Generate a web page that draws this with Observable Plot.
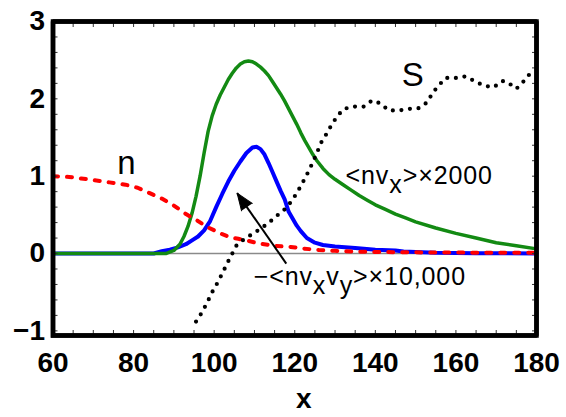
<!DOCTYPE html>
<html>
<head>
<meta charset="utf-8">
<script src="https://cdn.jsdelivr.net/npm/d3@7"></script>
<script src="https://cdn.jsdelivr.net/npm/@observablehq/plot@0.6"></script>
<style>
  html, body { margin: 0; padding: 0; background: white; }
  #chart svg { display: block; }
  g[aria-label="x-axis tick label"], g[aria-label="y-axis tick label"] { font-size: 28px; font-weight: bold; }
</style>
</head>
<body>
<div id="chart"></div>
<script>
// ---- data ----
const xTicks = [60, 80, 100, 120, 140, 160, 180];
const yTicks = [-1, 0, 1, 2, 3];
const xMinor = d3.range(60, 181, 5);
const yMinor = d3.range(-1, 3.01, 0.2);
const xDomain = [60, 180];
const yDomain = [-1.06, 3];

// <nv_x> x 2000 (green)
const gX = [60, 88, 90, 91.5, 92.5, 93.5, 94.5, 95.5, 96.5, 97.5, 98.5, 99.5, 100.5, 101.5, 102.5, 103.5, 104.5, 105.5, 106.5, 107.5, 108.5, 109.5, 110.5, 111.5, 112.5, 113.5, 114.5, 115.5, 116.5, 117.5, 118.5, 119.5, 120.5, 121.5, 122.5, 123.5, 124.5, 125.5, 127, 128.5, 130, 132, 134, 136, 138, 140, 142.5, 145, 147.5, 150, 155, 160, 165, 170, 175, 180];
const gY = [0, 0, 0.04, 0.12, 0.22, 0.35, 0.52, 0.74, 1.0, 1.3, 1.58, 1.78, 1.93, 2.05, 2.15, 2.25, 2.33, 2.4, 2.45, 2.48, 2.49, 2.48, 2.45, 2.41, 2.36, 2.3, 2.22, 2.14, 2.06, 1.97, 1.87, 1.77, 1.67, 1.56, 1.46, 1.37, 1.28, 1.2, 1.1, 1.02, 0.96, 0.89, 0.82, 0.75, 0.69, 0.63, 0.57, 0.51, 0.46, 0.41, 0.33, 0.26, 0.2, 0.14, 0.1, 0.06];

// -<nv_x v_y> x 10,000 (blue)
const bX = [60, 85, 87, 89, 91, 93, 94.5, 96, 97.5, 99, 100.5, 102, 103.5, 105, 106.5, 108, 109.5, 110.5, 111.5, 112.5, 113.5, 114.5, 115.5, 116.5, 117.5, 118.5, 119.5, 120.5, 121.5, 123, 125, 127, 130, 135, 140, 145, 147, 150, 155, 165, 180];
const bY = [0, 0, 0.03, 0.05, 0.08, 0.12, 0.17, 0.22, 0.3, 0.42, 0.6, 0.77, 0.93, 1.07, 1.19, 1.3, 1.37, 1.38, 1.35, 1.28, 1.17, 1.05, 0.93, 0.81, 0.7, 0.54, 0.45, 0.36, 0.29, 0.2, 0.14, 0.11, 0.09, 0.07, 0.05, 0.04, 0.025, 0.02, 0.01, 0.005, 0];

// n (red dashed)
const nX = [60, 64, 67, 70, 74, 78, 81, 84, 87, 90, 93, 96, 98, 100, 102, 104, 106, 108, 111, 115, 119, 122, 126, 130, 135, 140, 150, 160, 170, 180];
const nY = [1.0, 0.99, 0.97, 0.95, 0.92, 0.89, 0.85, 0.78, 0.71, 0.62, 0.51, 0.42, 0.35, 0.3, 0.25, 0.21, 0.19, 0.17, 0.13, 0.1, 0.085, 0.065, 0.045, 0.035, 0.025, 0.02, 0.015, 0.012, 0.01, 0.01];

// S (black dotted)
const sX = [95.5, 97, 98.3, 99.5, 100.7, 102, 103.2, 104.5, 105.5, 107.3, 109.4, 111.5, 113.6, 115.6, 117.7, 119.4, 120.7, 121.9, 123.2, 124.4, 125.5, 126.5, 127.8, 129.1, 130.6, 132.2, 134.6, 137.1, 139.2, 141.3, 143.3, 145.8, 148.3, 150.8, 153, 154.1, 155.7, 157.4, 160.1, 162.4, 164.6, 166.9, 169.4, 171.5, 172.7, 175, 176.7, 178.3, 180];
const sY = [-0.88, -0.76, -0.63, -0.5, -0.39, -0.26, -0.13, 0, 0.1, 0.18, 0.25, 0.32, 0.4, 0.49, 0.58, 0.69, 0.8, 0.91, 1.04, 1.17, 1.3, 1.43, 1.54, 1.66, 1.78, 1.87, 1.9, 1.9, 1.98, 1.94, 1.85, 1.85, 1.87, 1.88, 1.96, 2.07, 2.17, 2.27, 2.27, 2.29, 2.23, 2.17, 2.15, 2.23, 2.22, 2.13, 2.22, 2.32, 2.34];

// annotations
const bigLabels = ["n", "S"];
const bigLabelX = [78.2, 149.3];
const bigLabelY = [1.03, 2.17];
const smallLabels = ["<nv_x>×2000", "−<nv_xv_y>×10,000"];
const smallLabelX = [132.6, 109.8];
const smallLabelY = [0.9, -0.41];
const arrowTail = [{x: 117.9, y: -0.13}];
const arrowTip = [{x: 105.7, y: 0.78}];

const zip = (xs, ys) => xs.map((x, i) => ({x, y: ys[i]}));
const green = zip(gX, gY), blue = zip(bX, bY), red = zip(nX, nY), sdots = zip(sX, sY);
const arrowLink = [{x1: arrowTail[0].x, y1: arrowTail[0].y, x2: arrowTip[0].x, y2: arrowTip[0].y}];
const framePath = [
  {x: xDomain[0], y: yDomain[0]}, {x: xDomain[1], y: yDomain[0]},
  {x: xDomain[1], y: yDomain[1]}, {x: xDomain[0], y: yDomain[1]},
  {x: xDomain[0], y: yDomain[0]}
];
const intFmt = d => (d < 0 ? "\u2212" : "") + Math.abs(d);

const plot = Plot.plot({
  width: 566,
  height: 417,
  marginLeft: 52.5,
  marginRight: 30,
  marginTop: 21,
  marginBottom: 82,
  style: {fontFamily: "'Liberation Sans', Arial, sans-serif", background: "white"},
  x: {domain: xDomain},
  y: {domain: yDomain},
  marks: [
    Plot.ruleY([0], {stroke: "#8a8a8a", strokeWidth: 1.5}),
    Plot.line(blue, {x: "x", y: "y", stroke: "#0000ff", strokeWidth: 4}),
    Plot.line(green, {x: "x", y: "y", stroke: "#138a13", strokeWidth: 3.5}),
    Plot.line(red, {x: "x", y: "y", stroke: "#ff0000", strokeWidth: 4, strokeDasharray: "5,9", strokeLinecap: "round"}),
    Plot.line(sdots, {x: "x", y: "y", stroke: "black", strokeWidth: 4.2, strokeDasharray: "0,8.6", strokeLinecap: "round"}),
    Plot.link(arrowLink, {x1: "x1", y1: "y1", x2: "x2", y2: "y2", stroke: "black", strokeWidth: 2}),
    Plot.vector(arrowTip, {x: "x", y: "y", shape: "spike", anchor: "end", length: 17, r: 6.5, rotate: -35, fill: "black", stroke: "black", strokeWidth: 1}),
    Plot.text(bigLabels, {x: (d, i) => bigLabelX[i], y: (d, i) => bigLabelY[i], text: d => d, fontSize: 33, lineAnchor: "bottom", textAnchor: "middle", fill: "black"}),
    Plot.text(smallLabels, {x: (d, i) => smallLabelX[i], y: (d, i) => smallLabelY[i], text: d => d, fontSize: 25, lineAnchor: "bottom", textAnchor: "start", fill: "black"}),
    Plot.text(["x"], {frameAnchor: "bottom", text: d => d, dy: 72, dx: 9, lineAnchor: "bottom", fontSize: 28, fontWeight: "bold", fill: "black"}),
    Plot.axisX(xMinor, {anchor: "bottom", tickSize: 5, dy: -5, tickFormat: () => "", label: null, stroke: "#333", strokeWidth: 1}),
    Plot.axisX(xMinor, {anchor: "top", tickSize: 5, dy: 5, tickFormat: () => "", label: null, stroke: "#333", strokeWidth: 1}),
    Plot.axisY(yMinor, {anchor: "left", tickSize: 5, dx: 5, tickFormat: () => "", label: null, stroke: "#333", strokeWidth: 1}),
    Plot.axisY(yMinor, {anchor: "right", tickSize: 5, dx: -5, tickFormat: () => "", label: null, stroke: "#333", strokeWidth: 1}),
    Plot.axisX(xTicks, {anchor: "bottom", tickSize: 0, tickPadding: 17, label: null, tickFormat: intFmt}),
    Plot.axisY(yTicks, {anchor: "left", tickSize: 0, tickPadding: 8, label: null, tickFormat: intFmt}),
    Plot.frame({stroke: "black", strokeWidth: 4.5}),
    Plot.line(framePath, {x: "x", y: "y", stroke: "black", strokeWidth: 4.5, strokeLinejoin: "miter", strokeLinecap: "square"})
  ]
});

// subscripts: "_c" -> lowered character
const NS = "http://www.w3.org/2000/svg";
d3.select(plot).selectAll("text").each(function () {
  const t = this.textContent;
  if (!t.includes("_")) return;
  const parts = t.split(/(_.)/).filter(p => p);
  this.textContent = "";
  this.setAttribute("letter-spacing", "0.9");
  let lowered = false;
  for (const p of parts) {
    const ts = document.createElementNS(NS, "tspan");
    if (p[0] === "_") {
      ts.textContent = p.slice(1);
      if (!lowered) ts.setAttribute("dy", "0.36em");
      lowered = true;
    } else {
      ts.textContent = p;
      if (lowered) ts.setAttribute("dy", "-0.36em");
      lowered = false;
    }
    this.appendChild(ts);
  }
});

document.getElementById("chart").appendChild(plot);
</script>
</body>
</html>
